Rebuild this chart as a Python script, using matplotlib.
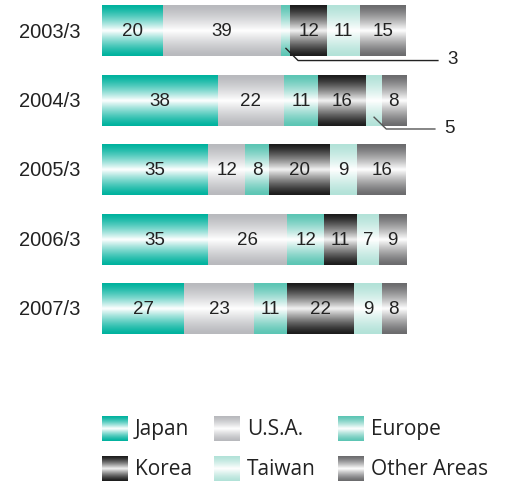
import matplotlib
matplotlib.use("Agg")
import matplotlib.pyplot as plt
import numpy as np
from matplotlib.colors import to_rgb

# data
years = ["2003/3", "2004/3", "2005/3", "2006/3", "2007/3"]
regions = ["Japan", "U.S.A.", "Europe", "Korea", "Taiwan", "Other Areas"]
japan = [20, 38, 35, 35, 27]
usa = [39, 22, 12, 26, 23]
europe = [3, 11, 8, 12, 11]
korea = [12, 16, 20, 11, 22]
taiwan = [11, 5, 9, 7, 9]
other = [15, 8, 16, 9, 8]
series = [japan, usa, europe, korea, taiwan, other]

edge_colors = ["#00b29e", "#b8b9bd", "#5cc5b4", "#1c1c1c", "#b2e2d8", "#6b6b6d"]
center_colors = ["#ffffff", "#ffffff", "#ffffff", "#f2f2f2", "#ffffff", "#ffffff"]


def gradient(edge, center, n=64):
    t = np.linspace(0, 1, n)
    f = (1 - np.abs(2 * t - 1)) ** 1.3
    e = np.array(to_rgb(edge))
    c = np.array(to_rgb(center))
    g = e[None, :] + (c - e)[None, :] * f[:, None]
    return g[:, None, :]


grads = [gradient(e, c) for e, c in zip(edge_colors, center_colors)]

fig = plt.figure(figsize=(5.09, 4.85), dpi=100)
ax = fig.add_axes([0, 0, 1, 1])
ax.set_xlim(-102 / 3.04, (509 - 102) / 3.04)
ax.set_ylim((485 - 32) / 69.5, -32 / 69.5)
ax.axis("off")

bar_h = 0.73
num_font = dict(family="Liberation Sans", fontsize=13.5, color="#222222")

for i, yr in enumerate(years):
    left = 0
    for k, vals in enumerate(series):
        v = vals[i]
        ax.imshow(grads[k], extent=[left, left + v, i + bar_h / 2, i - bar_h / 2],
                  aspect="auto", interpolation="bilinear", zorder=2)
        if v >= 7:
            ax.text(left + v / 2, i, str(v), ha="center", va="center", zorder=3, **num_font)
        left += v
    ax.text(-7.2, i, yr, ha="right", va="center", family="Liberation Sans",
            fontsize=14.5, color="#222222")

# leader lines for small segments
# 2003/3 Europe (3)
c = japan[0] + usa[0] + europe[0] / 2
ax.plot([c, c + 4, 110.5], [0 + 0.25, 0 + 0.425, 0 + 0.425], color="#222222", lw=1, zorder=4)
ax.text(113.5, 0.40, str(europe[0]), ha="left", va="center", **num_font)
# 2004/3 Taiwan (5)
c = japan[1] + usa[1] + europe[1] + korea[1] + taiwan[1] / 2
ax.plot([c, c + 4, 109.5], [1 + 0.24, 1 + 0.41, 1 + 0.41], color="#555555", lw=1, zorder=4)
ax.text(112.5, 1 + 0.39, str(taiwan[1]), ha="left", va="center", **num_font)

# legend
lax = fig.add_axes([0, 0, 1, 1])
lax.set_xlim(0, 509)
lax.set_ylim(485, 0)
lax.axis("off")
lax.patch.set_alpha(0)
leg_x = [102, 214, 338]
leg_y = [430, 470]
for k, name in enumerate(regions):
    x0 = leg_x[k % 3]
    y0 = leg_y[k // 3]
    lax.imshow(grads[k], extent=[x0, x0 + 26, y0 + 12.5, y0 - 12.5],
               aspect="auto", interpolation="bilinear")
    lax.text(x0 + 33, y0, name, ha="left", va="center", family="Open Sans",
             fontsize=15, color="#222222")
lax.set_xlim(0, 509)
lax.set_ylim(485, 0)

fig.savefig("out.png", dpi=100)
